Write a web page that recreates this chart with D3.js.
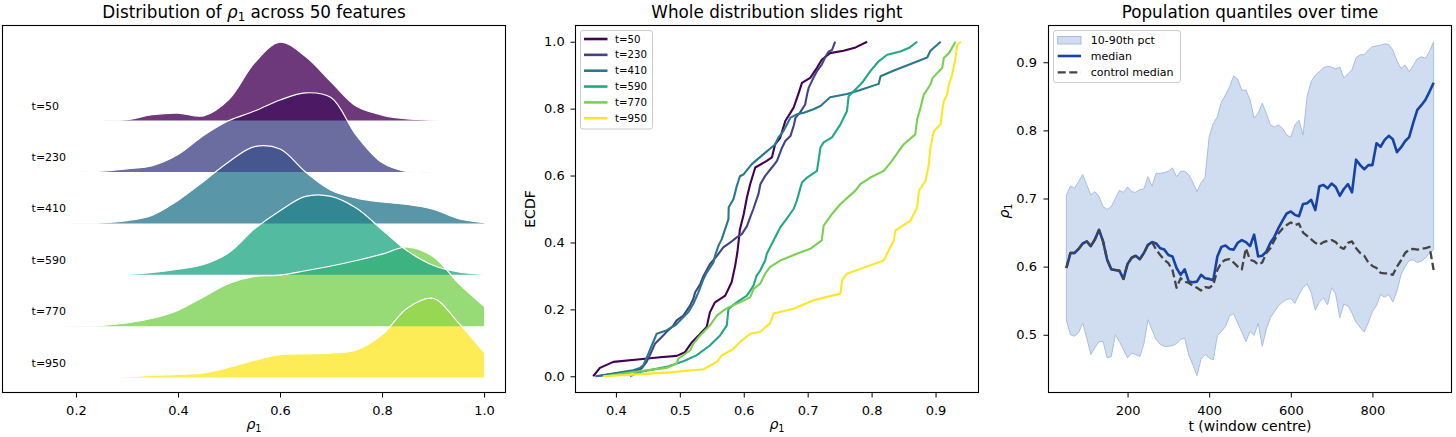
<!DOCTYPE html>
<html>
<head>
<meta charset="utf-8">
<script src="https://cdn.jsdelivr.net/npm/d3@7"></script>
<style>
  body { margin: 0; background: #fff; }
  svg { display: block; font-family: "DejaVu Sans", sans-serif; }
</style>
</head>
<body>
<div id="chart"></div>
<script>
// ridge / ECDF groups
const timeLabels = ["t=50", "t=230", "t=410", "t=590", "t=770", "t=950"];

// ridgeline densities (relative height)
const rhoGrid = [0.15, 0.20, 0.25, 0.30, 0.35, 0.40, 0.45, 0.50, 0.55, 0.60, 0.65, 0.70, 0.75, 0.80, 0.85, 0.90, 0.95, 1.00];
const dens50  = [0, 0, 0.004, 0.012, 0.075, 0.095, 0.06, 0.27, 0.73, 0.99, 0.81, 0.49, 0.18, 0.07, 0.02, 0.005, 0, 0];
const dens230 = [0, 0, 0.01, 0.04, 0.08, 0.22, 0.46, 0.65, 0.77, 0.91, 1.0, 0.94, 0.46, 0.12, 0.005, 0, 0, 0];
const dens410 = [0, 0.002, 0.006, 0.035, 0.105, 0.29, 0.53, 0.78, 0.97, 0.94, 0.65, 0.42, 0.32, 0.27, 0.24, 0.18, 0.06, 0.01];
const dens590 = [0, 0, 0, 0.005, 0.03, 0.07, 0.13, 0.28, 0.58, 0.81, 0.99, 0.99, 0.84, 0.57, 0.30, 0.12, 0.035, 0.005];
const dens770 = [0, 0.003, 0.01, 0.04, 0.10, 0.20, 0.37, 0.54, 0.63, 0.645, 0.70, 0.76, 0.83, 0.91, 1.0, 0.88, 0.54, 0.25];
const dens950 = [0, 0, 0, 0.008, 0.03, 0.04, 0.06, 0.13, 0.22, 0.29, 0.30, 0.31, 0.35, 0.54, 0.88, 1.0, 0.69, 0.32];

// ECDF vertices [rho1, ecdf]
const ecdf50 = [[0.3645,0],[0.375,0.025],[0.396,0.043],[0.438,0.051],[0.469,0.057],[0.495,0.061],[0.508,0.072],[0.519,0.102],[0.532,0.127],[0.542,0.147],[0.547,0.191],[0.555,0.221],[0.571,0.241],[0.581,0.281],[0.5865,0.33],[0.590,0.37],[0.594,0.439],[0.600,0.485],[0.605,0.535],[0.610,0.574],[0.618,0.624],[0.636,0.644],[0.644,0.654],[0.649,0.693],[0.657,0.713],[0.665,0.763],[0.678,0.803],[0.686,0.847],[0.691,0.877],[0.704,0.892],[0.7145,0.922],[0.722,0.946],[0.735,0.966],[0.756,0.973],[0.775,0.983],[0.793,1.0]];
const ecdf230 = [[0.368,0],[0.40,0.008],[0.427,0.013],[0.44,0.023],[0.448,0.043],[0.453,0.0625],[0.461,0.097],[0.469,0.112],[0.479,0.132],[0.49,0.152],[0.495,0.167],[0.5055,0.1815],[0.516,0.211],[0.521,0.231],[0.524,0.251],[0.532,0.276],[0.537,0.30],[0.547,0.335],[0.558,0.36],[0.568,0.385],[0.579,0.40],[0.589,0.415],[0.597,0.425],[0.605,0.449],[0.61,0.475],[0.615,0.5],[0.623,0.545],[0.626,0.574],[0.6335,0.599],[0.644,0.624],[0.652,0.644],[0.66,0.684],[0.665,0.703],[0.673,0.718],[0.678,0.748],[0.681,0.773],[0.688,0.788],[0.696,0.8125],[0.699,0.842],[0.7015,0.862],[0.709,0.892],[0.7145,0.912],[0.722,0.9315],[0.728,0.956],[0.733,0.971],[0.738,0.975],[0.743,1.0]];
const ecdf410 = [[0.37,0],[0.40,0.01],[0.427,0.018],[0.4376,0.025],[0.443,0.033],[0.4507,0.067],[0.456,0.092],[0.4637,0.127],[0.479,0.137],[0.4925,0.152],[0.5003,0.167],[0.513,0.191],[0.521,0.216],[0.529,0.251],[0.537,0.291],[0.542,0.31],[0.5526,0.34],[0.555,0.36],[0.5604,0.39],[0.5656,0.41],[0.5708,0.44],[0.576,0.469],[0.5765,0.505],[0.584,0.53],[0.589,0.568],[0.594,0.598],[0.6,0.604],[0.6126,0.634],[0.631,0.664],[0.649,0.693],[0.654,0.713],[0.662,0.733],[0.673,0.773],[0.683,0.783],[0.694,0.788],[0.709,0.798],[0.72,0.808],[0.735,0.834],[0.7615,0.844],[0.78,0.854],[0.811,0.874],[0.814,0.897],[0.835,0.914],[0.866,0.937],[0.887,0.953],[0.892,0.973],[0.908,1.0]];
const ecdf590 = [[0.422,0],[0.4376,0.013],[0.479,0.028],[0.5055,0.045],[0.526,0.0625],[0.547,0.092],[0.563,0.122],[0.5735,0.152],[0.576,0.201],[0.589,0.221],[0.605,0.241],[0.615,0.27],[0.62,0.30],[0.6257,0.316],[0.6335,0.346],[0.636,0.366],[0.6466,0.406],[0.657,0.445],[0.665,0.465],[0.678,0.5],[0.683,0.525],[0.691,0.579],[0.699,0.594],[0.7145,0.614],[0.72,0.684],[0.725,0.699],[0.738,0.714],[0.7513,0.753],[0.7615,0.793],[0.764,0.837],[0.777,0.862],[0.787,0.882],[0.798,0.912],[0.811,0.9415],[0.8244,0.961],[0.845,0.971],[0.858,0.981],[0.8713,1.0]];
const ecdf770 = [[0.383,0],[0.427,0.013],[0.479,0.025],[0.495,0.038],[0.4977,0.0526],[0.516,0.077],[0.521,0.097],[0.5317,0.122],[0.547,0.152],[0.558,0.1815],[0.568,0.196],[0.576,0.206],[0.594,0.221],[0.61,0.236],[0.615,0.26],[0.6257,0.277],[0.6335,0.3065],[0.641,0.326],[0.657,0.346],[0.683,0.366],[0.704,0.381],[0.722,0.406],[0.725,0.45],[0.738,0.485],[0.7513,0.515],[0.7746,0.555],[0.7824,0.574],[0.798,0.594],[0.819,0.614],[0.8317,0.644],[0.85,0.693],[0.8683,0.723],[0.8713,0.768],[0.8765,0.8026],[0.8817,0.842],[0.892,0.872],[0.8955,0.892],[0.9104,0.9216],[0.913,0.951],[0.921,0.966],[0.9313,1.0]];
const ecdf950 = [[0.38,0],[0.427,0.005],[0.479,0.011],[0.537,0.021],[0.558,0.043],[0.5656,0.0625],[0.584,0.082],[0.594,0.102],[0.61,0.127],[0.6257,0.133],[0.641,0.158],[0.6466,0.1875],[0.678,0.202],[0.709,0.227],[0.7513,0.247],[0.7537,0.287],[0.7615,0.3065],[0.7824,0.321],[0.819,0.346],[0.824,0.366],[0.8347,0.406],[0.837,0.4355],[0.8608,0.465],[0.8713,0.505],[0.874,0.5546],[0.8843,0.584],[0.8896,0.634],[0.892,0.6835],[0.8974,0.733],[0.908,0.753],[0.9104,0.7927],[0.913,0.822],[0.918,0.842],[0.921,0.872],[0.926,0.902],[0.9313,0.951],[0.934,0.991],[0.9395,1.0]];

// population quantiles over time
const tCentre = [50,60,70,80,90,100,110,120,130,140,150,160,170,180,190,200,210,220,230,240,250,260,270,280,290,300,310,320,330,340,350,360,370,380,390,400,410,420,430,440,450,460,470,480,490,500,510,520,530,540,550,560,570,580,590,600,610,620,630,640,650,660,670,680,690,700,710,720,730,740,750,760,770,780,790,800,810,820,830,840,850,860,870,880,890,900,910,920,930,940,950];
const medianRho = [0.598,0.620,0.620,0.626,0.634,0.637,0.630,0.640,0.654,0.637,0.610,0.596,0.595,0.594,0.582,0.604,0.613,0.616,0.611,0.620,0.632,0.636,0.634,0.627,0.625,0.617,0.615,0.598,0.588,0.596,0.578,0.577,0.578,0.588,0.583,0.582,0.580,0.615,0.629,0.631,0.626,0.625,0.635,0.639,0.636,0.630,0.647,0.615,0.616,0.622,0.635,0.644,0.657,0.668,0.678,0.681,0.676,0.674,0.692,0.693,0.698,0.683,0.718,0.720,0.715,0.722,0.717,0.704,0.714,0.721,0.709,0.757,0.749,0.743,0.749,0.749,0.781,0.776,0.786,0.792,0.787,0.768,0.775,0.784,0.790,0.811,0.830,0.837,0.845,0.857,0.870];
const controlRho = [0.598,0.620,0.620,0.626,0.634,0.637,0.630,0.640,0.654,0.637,0.610,0.596,0.595,0.594,0.582,0.604,0.613,0.616,0.611,0.620,0.632,0.636,0.625,0.617,0.610,0.605,0.595,0.569,0.583,0.578,0.576,0.572,0.569,0.565,0.570,0.569,0.573,0.595,0.606,0.610,0.611,0.606,0.600,0.596,0.627,0.610,0.608,0.603,0.606,0.620,0.627,0.639,0.649,0.656,0.661,0.665,0.661,0.663,0.650,0.645,0.640,0.635,0.632,0.636,0.638,0.639,0.636,0.629,0.626,0.635,0.637,0.627,0.620,0.616,0.606,0.601,0.598,0.591,0.590,0.590,0.588,0.600,0.609,0.620,0.625,0.626,0.625,0.626,0.627,0.629,0.595];
const p90Rho = [0.705,0.718,0.715,0.725,0.735,0.720,0.705,0.710,0.703,0.688,0.684,0.688,0.700,0.712,0.709,0.717,0.710,0.709,0.713,0.714,0.732,0.718,0.737,0.737,0.738,0.740,0.745,0.732,0.740,0.740,0.735,0.724,0.710,0.723,0.731,0.791,0.810,0.820,0.842,0.852,0.864,0.880,0.875,0.859,0.859,0.845,0.818,0.825,0.840,0.825,0.808,0.805,0.808,0.803,0.793,0.790,0.808,0.815,0.793,0.850,0.872,0.881,0.886,0.892,0.894,0.893,0.890,0.893,0.877,0.883,0.889,0.907,0.911,0.911,0.918,0.923,0.924,0.925,0.927,0.926,0.918,0.902,0.891,0.896,0.886,0.895,0.905,0.908,0.906,0.916,0.930];
const p10Rho = [0.522,0.500,0.498,0.503,0.517,0.495,0.471,0.481,0.490,0.490,0.466,0.468,0.500,0.490,0.478,0.466,0.473,0.471,0.468,0.487,0.522,0.507,0.493,0.486,0.483,0.483,0.484,0.487,0.493,0.495,0.470,0.456,0.440,0.464,0.471,0.466,0.463,0.499,0.505,0.512,0.528,0.531,0.517,0.504,0.490,0.505,0.499,0.517,0.483,0.508,0.525,0.534,0.543,0.548,0.552,0.553,0.546,0.559,0.569,0.575,0.562,0.536,0.548,0.554,0.544,0.569,0.560,0.525,0.545,0.542,0.532,0.518,0.511,0.504,0.518,0.534,0.543,0.559,0.555,0.559,0.548,0.564,0.588,0.600,0.609,0.610,0.606,0.608,0.613,0.620,0.625];

const ridgeDens = [dens50, dens230, dens410, dens590, dens770, dens950];
const ecdfs = [ecdf50, ecdf230, ecdf410, ecdf590, ecdf770, ecdf950];
const colors = timeLabels.map((d, i) => d3.interpolateViridis(i / (timeLabels.length - 1)));

const W = 1456, H = 437;
const plotTop = 25, plotBottom = 393;
const svg = d3.select("#chart").append("svg").attr("width", W).attr("height", H);
svg.append("rect").attr("width", W).attr("height", H).attr("fill", "#fff");

// rho with subscript, mathtext style
function rhoText(sel, size) {
  sel.append("tspan").style("font-style", "italic").text("ρ");
  sel.append("tspan").attr("dy", size * 0.22).style("font-size", (size * 0.7) + "px").text("1");
}

function title(cx, parts) {
  const t = svg.append("text").attr("x", cx).attr("y", 17.5)
    .attr("text-anchor", "middle").style("font-size", "16.8px");
  parts(t);
}

function styleAxis(g) {
  g.select(".domain").remove();
  g.attr("font-family", null).attr("font-size", null);
  g.selectAll(".tick text").style("font-size", "13px").attr("fill", "#000");
  g.selectAll(".tick line").attr("stroke", "#000").attr("stroke-width", 1);
}

function frame(x0, x1) {
  svg.append("rect").attr("x", x0 + 0.5).attr("y", plotTop + 0.5)
    .attr("width", x1 - x0 - 1).attr("height", plotBottom - plotTop - 1)
    .attr("fill", "none").attr("stroke", "#000").attr("stroke-width", 1.1);
}

// ---------- panel 1: ridgeline ----------
const xL = d3.scaleLinear().domain([0.055, 1.043]).range([2, 506]);
const yL = d3.scaleLinear().domain([-0.3, 6.86]).range([plotBottom, plotTop]);
const ridgeHeight = 1.54;
const ridgeCurve = d3.curveCatmullRom.alpha(0.5);

const ridgeG = svg.append("g");
// upper ridges sit on top of the ones below them
for (let i = timeLabels.length - 1; i >= 0; i--) {
  const off = timeLabels.length - 1 - i;
  const area = d3.area()
    .x((d, j) => xL(rhoGrid[j]))
    .y0(yL(off))
    .y1(d => yL(off + d * ridgeHeight))
    .curve(ridgeCurve);
  ridgeG.append("path")
    .datum(ridgeDens[i])
    .attr("d", area)
    .attr("fill", colors[i])
    .attr("fill-opacity", 0.78);
}
ridgeDens.forEach((dens, i) => {
  const off = timeLabels.length - 1 - i;
  const line = d3.line()
    .x((d, j) => xL(rhoGrid[j]))
    .y(d => yL(off + d * ridgeHeight))
    .curve(ridgeCurve);
  ridgeG.append("path")
    .datum(dens)
    .attr("d", line)
    .attr("fill", "none")
    .attr("stroke", "#fff")
    .attr("stroke-width", 1.2);
  svg.append("text")
    .attr("x", xL(0.113))
    .attr("y", yL(off + 0.29))
    .attr("dy", "0.35em")
    .style("font-size", "11px")
    .text(timeLabels[i]);
});

svg.append("g")
  .attr("transform", `translate(0,${plotBottom})`)
  .call(d3.axisBottom(xL).tickValues([0.2, 0.4, 0.6, 0.8, 1.0]).tickFormat(d3.format(".1f"))
    .tickSize(4.5).tickPadding(7.8))
  .call(styleAxis);
frame(2, 506);
title(254, t => { t.append("tspan").text("Distribution of "); rhoText(t, 16.8);
  t.append("tspan").attr("dy", -16.8 * 0.22).text(" across 50 features"); });
svg.append("text").attr("x", 254).attr("y", 429).attr("text-anchor", "middle")
  .style("font-size", "14px").call(t => rhoText(t, 14));

// ---------- panel 2: ECDF ----------
const xM = d3.scaleLinear().domain([0.336, 0.968]).range([575, 979]);
const yM = d3.scaleLinear().domain([-0.05, 1.05]).range([plotBottom, plotTop]);

const ecdfLine = d3.line().x(d => xM(d[0])).y(d => yM(d[1]));
ecdfs.forEach((pts, i) => {
  svg.append("path")
    .datum(pts)
    .attr("d", ecdfLine)
    .attr("fill", "none")
    .attr("stroke", colors[i])
    .attr("stroke-width", 2.1)
    .attr("stroke-linejoin", "round");
});

svg.append("g")
  .attr("transform", `translate(0,${plotBottom})`)
  .call(d3.axisBottom(xM).tickValues([0.4, 0.5, 0.6, 0.7, 0.8, 0.9]).tickFormat(d3.format(".1f"))
    .tickSize(4.5).tickPadding(7.8))
  .call(styleAxis);
svg.append("g")
  .attr("transform", "translate(575,0)")
  .call(d3.axisLeft(yM).tickValues([0, 0.2, 0.4, 0.6, 0.8, 1.0]).tickFormat(d3.format(".1f"))
    .tickSize(4.5).tickPadding(5.8))
  .call(styleAxis);
frame(575, 979);
title(777, t => t.text("Whole distribution slides right"));
svg.append("text").attr("x", 777).attr("y", 429).attr("text-anchor", "middle")
  .style("font-size", "14px").call(t => rhoText(t, 14));
svg.append("text").attr("transform", "translate(535,209) rotate(-90)")
  .attr("text-anchor", "middle").style("font-size", "14px").text("ECDF");

// legend
const legM = svg.append("g");
legM.append("rect").attr("x", 580.5).attr("y", 30.5).attr("width", 72).attr("height", 98.5)
  .attr("rx", 2.5).attr("fill", "#fff").attr("fill-opacity", 0.8)
  .attr("stroke", "#cccccc").attr("stroke-width", 1);
timeLabels.forEach((lab, i) => {
  const y = 39 + i * 15.85;
  legM.append("line").attr("x1", 584).attr("x2", 607.5).attr("y1", y).attr("y2", y)
    .attr("stroke", colors[i]).attr("stroke-width", 2.6);
  legM.append("text").attr("x", 615).attr("y", y).attr("dy", "0.35em")
    .style("font-size", "10.2px").text(lab);
});

// ---------- panel 3: quantiles over time ----------
const xR = d3.scaleLinear().domain([5, 995]).range([1048, 1452]);
const yR = d3.scaleLinear().domain([0.4145, 0.9547]).range([plotBottom, plotTop]);
const bandFill = "rgb(208,221,240)", bandEdge = "rgb(168,190,225)";
const medColor = "#1843a6", ctrlColor = "#444444";

svg.append("path")
  .datum(tCentre)
  .attr("d", d3.area().x(d => xR(d)).y0((d, i) => yR(p10Rho[i])).y1((d, i) => yR(p90Rho[i])))
  .attr("fill", bandFill)
  .attr("stroke", bandEdge)
  .attr("stroke-width", 1);
svg.append("path")
  .datum(tCentre)
  .attr("d", d3.line().x(d => xR(d)).y((d, i) => yR(medianRho[i])))
  .attr("fill", "none").attr("stroke", medColor).attr("stroke-width", 2.6)
  .attr("stroke-linejoin", "round");
svg.append("path")
  .datum(tCentre)
  .attr("d", d3.line().x(d => xR(d)).y((d, i) => yR(controlRho[i])))
  .attr("fill", "none").attr("stroke", ctrlColor).attr("stroke-width", 2.3)
  .attr("stroke-dasharray", "8,3.6").attr("stroke-linejoin", "round");

svg.append("g")
  .attr("transform", `translate(0,${plotBottom})`)
  .call(d3.axisBottom(xR).tickValues([200, 400, 600, 800]).tickFormat(d3.format("d"))
    .tickSize(4.5).tickPadding(7.8))
  .call(styleAxis);
svg.append("g")
  .attr("transform", "translate(1048,0)")
  .call(d3.axisLeft(yR).tickValues([0.5, 0.6, 0.7, 0.8, 0.9]).tickFormat(d3.format(".1f"))
    .tickSize(4.5).tickPadding(6.5))
  .call(styleAxis);
frame(1048, 1452);
title(1250, t => t.text("Population quantiles over time"));
svg.append("text").attr("x", 1250).attr("y", 431).attr("text-anchor", "middle")
  .style("font-size", "14px").text("t (window centre)");
svg.append("text").attr("transform", "translate(1009,211) rotate(-90)")
  .attr("text-anchor", "middle").style("font-size", "14px").call(t => rhoText(t, 14));

// legend
const legR = svg.append("g");
legR.append("rect").attr("x", 1053.5).attr("y", 30.5).attr("width", 127).attr("height", 52)
  .attr("rx", 2.5).attr("fill", "#fff").attr("fill-opacity", 0.8)
  .attr("stroke", "#cccccc").attr("stroke-width", 1);
legR.append("rect").attr("x", 1057.7).attr("y", 36.5).attr("width", 23.3).attr("height", 7.5)
  .attr("fill", bandFill).attr("stroke", bandEdge).attr("stroke-width", 1);
legR.append("line").attr("x1", 1057.7).attr("x2", 1081).attr("y1", 56).attr("y2", 56)
  .attr("stroke", medColor).attr("stroke-width", 2.6);
legR.append("line").attr("x1", 1057.7).attr("x2", 1081).attr("y1", 72.3).attr("y2", 72.3)
  .attr("stroke", ctrlColor).attr("stroke-width", 2.3).attr("stroke-dasharray", "8,3.6");
[["10-90th pct", 40], ["median", 56], ["control median", 72.3]].forEach(([lab, y]) => {
  legR.append("text").attr("x", 1090.7).attr("y", y).attr("dy", "0.35em")
    .style("font-size", "11px").text(lab);
});
</script>
</body>
</html>
